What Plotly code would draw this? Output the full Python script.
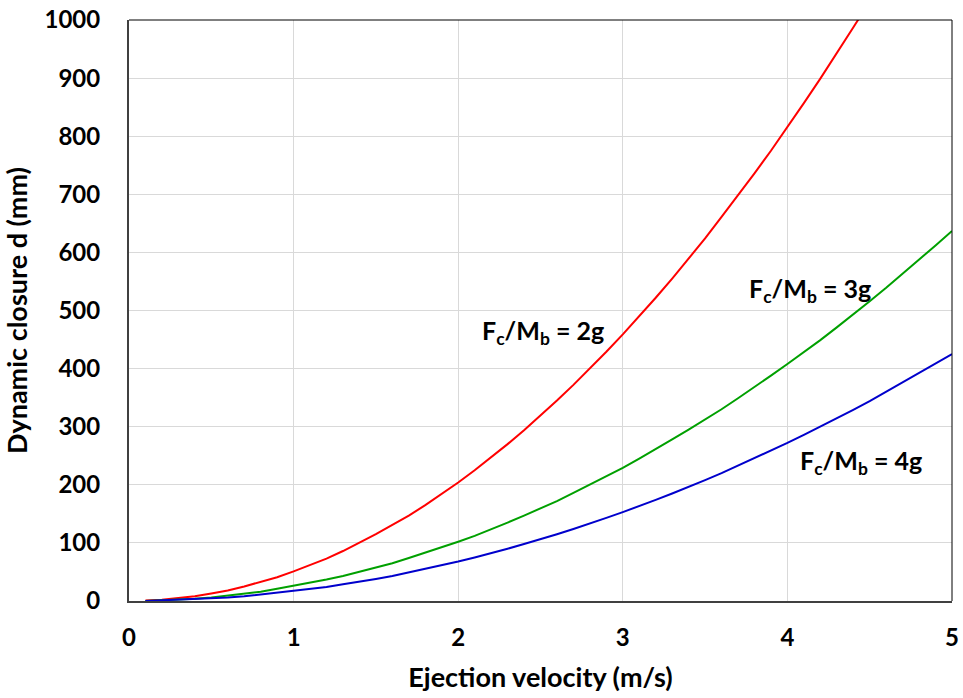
import plotly.graph_objects as go

velocity = [0.1, 0.2, 0.3, 0.4, 0.5, 0.6, 0.7, 0.8, 0.9, 1.0,
            1.1, 1.2, 1.3, 1.4, 1.5, 1.6, 1.7, 1.8, 1.9, 2.0,
            2.1, 2.2, 2.3, 2.4, 2.5, 2.6, 2.7, 2.8, 2.9, 3.0,
            3.1, 3.2, 3.3, 3.4, 3.5, 3.6, 3.7, 3.8, 3.9, 4.0,
            4.1, 4.2, 4.3, 4.4, 4.5, 4.6, 4.7, 4.8, 4.9, 5.0]

closure_2g = [1, 2, 5, 8, 13, 18, 25, 33, 41, 51,
              62, 73, 86, 100, 115, 131, 147, 165, 184, 204,
              225, 247, 270, 294, 319, 345, 372, 400, 429, 459,
              490, 522, 555, 589, 624, 661, 698, 736, 775, 815,
              857, 899, 942, 987, 1032]

closure_3g = [0, 1, 2, 4, 6, 9, 12, 16, 21, 26,
              31, 37, 43, 50, 57, 65, 74, 83, 92, 102,
              112, 123, 135, 147, 159, 172, 186, 200, 214, 229,
              245, 261, 278, 295, 312, 330, 349, 368, 388, 408,
              428, 449, 471, 493, 516, 539, 563, 587, 612, 637]

closure_4g = [0, 1, 2, 3, 4, 6, 8, 11, 14, 17,
              21, 24, 29, 33, 38, 43, 49, 55, 61, 68,
              75, 82, 90, 98, 106, 115, 124, 133, 143, 153,
              163, 174, 185, 196, 208, 220, 233, 245, 258, 272,
              286, 300, 314, 329, 344, 360, 376, 392, 408, 425]

labels = ["F<sub>c</sub>/M<sub>b</sub> = 2g",
          "F<sub>c</sub>/M<sub>b</sub> = 3g",
          "F<sub>c</sub>/M<sub>b</sub> = 4g"]
label_x = [2.515, 4.14, 4.45]
label_y = [463, 535, 239]

FONT = "Lato"

fig = go.Figure()
for ys, col in [(closure_2g, "#ff0000"), (closure_3g, "#00a000"), (closure_4g, "#0000cc")]:
    fig.add_trace(go.Scatter(x=velocity[:len(ys)], y=ys, mode="lines",
                             line=dict(color=col, width=2), showlegend=False))

for t, x, y in zip(labels, label_x, label_y):
    fig.add_annotation(x=x, y=y, text=t, showarrow=False,
                       font=dict(family=FONT, size=25, color="black", weight="bold"))

fig.update_layout(
    width=963, height=698,
    margin=dict(l=129, r=11, t=20, b=97),
    paper_bgcolor="white", plot_bgcolor="white",
    font=dict(family=FONT, color="black"),
    xaxis=dict(range=[0, 5], dtick=1, showgrid=True, gridcolor="#d9d9d9", gridwidth=1,
               showline=True, linecolor="#404040", linewidth=2, zeroline=False,
               automargin=False,
               tickfont=dict(family=FONT, size=24, color="black", weight="bold"),
               ticklabelstandoff=14,
               title=dict(text="Ejection velocity (m/s)", standoff=18,
                          font=dict(family=FONT, size=27, color="black", weight="bold"))),
    yaxis=dict(range=[0, 1000], dtick=100, showgrid=True, gridcolor="#d9d9d9", gridwidth=1,
               showline=True, linecolor="#404040", linewidth=2, zeroline=False,
               automargin=False,
               tickfont=dict(family=FONT, size=24, color="black", weight="bold"),
               ticklabelstandoff=22,
               title=dict(text="Dynamic closure d (mm)", standoff=16,
                          font=dict(family=FONT, size=27, color="black", weight="bold"))),
)

fig.add_shape(type="line", xref="paper", yref="paper", x0=0, x1=1, y0=1, y1=1,
              line=dict(color="black", width=1))
fig.add_shape(type="line", xref="paper", yref="paper", x0=1, x1=1, y0=0, y1=1,
              line=dict(color="black", width=1))

fig.write_html("out.html")
